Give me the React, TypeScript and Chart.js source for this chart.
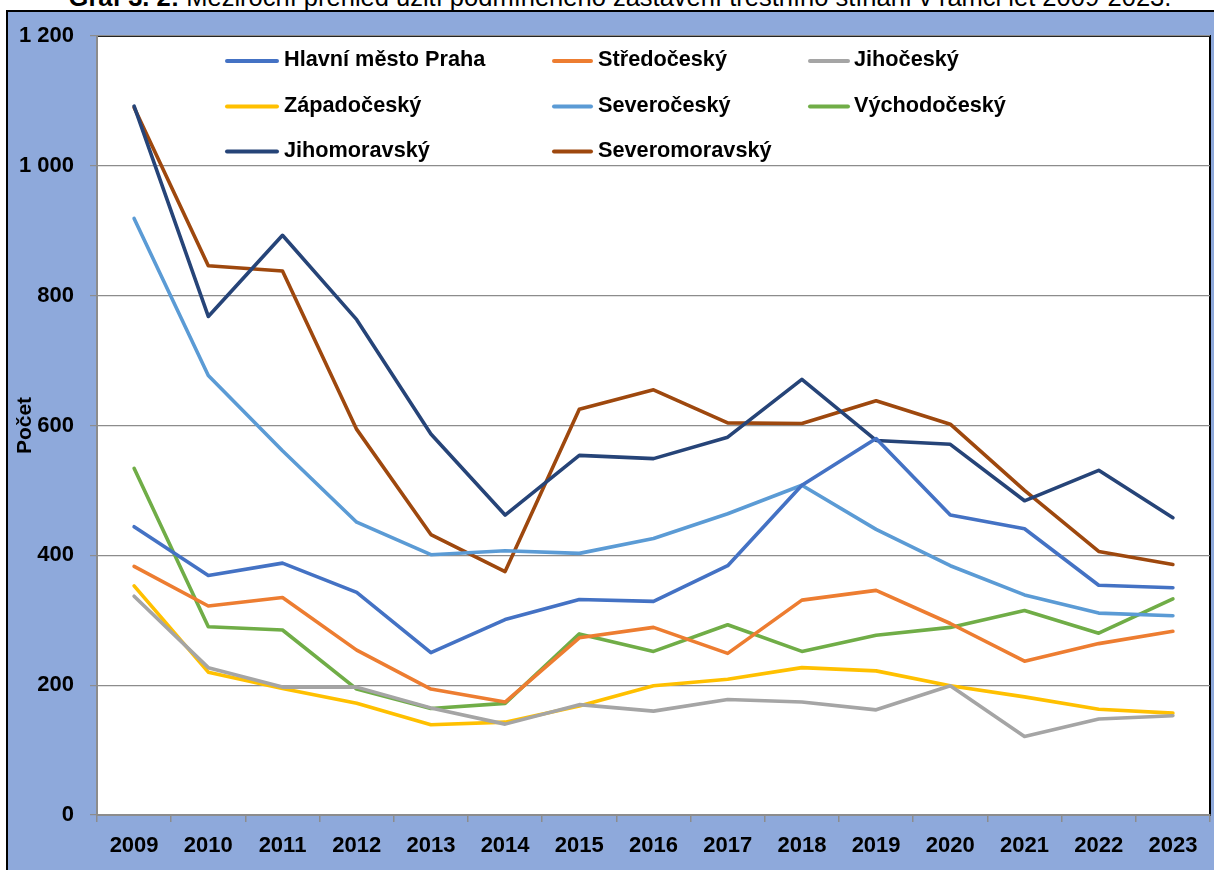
import React, { useEffect, useRef } from "react";
import { Chart, registerables } from "chart.js";
Chart.register(...registerables);

const years = ["2009", "2010", "2011", "2012", "2013", "2014", "2015", "2016", "2017", "2018", "2019", "2020", "2021", "2022", "2023"];

const praha = [444, 369, 388, 343, 250, 301, 332, 329, 384, 508, 580, 462, 441, 354, 350];
const stredocesky = [383, 322, 335, 254, 194, 174, 273, 289, 249, 331, 346, 295, 237, 264, 283];
const jihocesky = [337, 227, 197, 197, 165, 140, 170, 160, 178, 174, 162, 199, 121, 148, 153];
const zapadocesky = [353, 220, 195, 172, 139, 143, 168, 199, 209, 227, 222, 199, 182, 163, 157];
const severocesky = [919, 677, 561, 451, 401, 407, 403, 426, 464, 508, 440, 384, 339, 311, 307];
const vychodocesky = [534, 290, 285, 194, 164, 172, 279, 252, 293, 252, 277, 289, 315, 280, 333];
const jihomoravsky = [1092, 768, 893, 763, 587, 462, 554, 549, 582, 671, 577, 571, 484, 531, 458];
const severomoravsky = [1090, 846, 838, 594, 432, 375, 625, 655, 604, 603, 638, 602, 500, 406, 386];

const seriesNames = ["Hlavní město Praha", "Středočeský", "Jihočeský", "Západočeský", "Severočeský", "Východočeský", "Jihomoravský", "Severomoravský"];
const seriesValues = [praha, stredocesky, jihocesky, zapadocesky, severocesky, vychodocesky, jihomoravsky, severomoravsky];
const seriesColors = ["#4472C4", "#ED7D31", "#A5A5A5", "#FFC000", "#5B9BD5", "#70AD47", "#264478", "#9E480E"];

const yMin = 0;
const yMax = 1200;
const yStep = 200;

const FONT = '"Liberation Sans", Arial, sans-serif';

function fmt(v: number): string {
  if (v >= 1000) {
    return `${Math.floor(v / 1000)} ${String(v % 1000).padStart(3, "0")}`;
  }
  return String(v);
}

const plotAreaPlugin = {
  id: "plotArea",
  beforeDraw(chart: any) {
    const { ctx, chartArea } = chart;
    const { left, top, right, bottom } = chartArea;
    ctx.save();
    ctx.fillStyle = "#ffffff";
    ctx.fillRect(left, top, right - left, bottom - top);
    ctx.strokeStyle = "#000000";
    ctx.lineWidth = 2;
    ctx.strokeRect(left, top, right - left, bottom - top);
    ctx.restore();
  },
};

const legendPlugin = {
  id: "customLegend",
  afterDraw(chart: any) {
    const ctx = chart.ctx;
    const cols = [
      { x0: 225, x1: 279, tx: 284 },
      { x0: 552, x1: 593, tx: 598 },
      { x0: 808, x1: 850, tx: 854 },
    ];
    const rows = [61, 106.5, 151.5];
    chart.data.datasets.forEach((ds: any, i: number) => {
      const c = cols[i % 3];
      const r = rows[Math.floor(i / 3)];
      ctx.save();
      ctx.strokeStyle = ds.borderColor;
      ctx.lineWidth = 4;
      ctx.lineCap = "round";
      ctx.beginPath();
      ctx.moveTo(c.x0 + 2, r);
      ctx.lineTo(c.x1 - 2, r);
      ctx.stroke();
      ctx.fillStyle = "#000000";
      ctx.font = `bold 21.7px ${FONT}`;
      ctx.textBaseline = "middle";
      ctx.textAlign = "left";
      ctx.fillText(ds.label, c.tx, r - 0.5);
      ctx.restore();
    });
  },
};

export default function App() {
  const canvasRef = useRef<HTMLCanvasElement | null>(null);

  useEffect(() => {
    if (!canvasRef.current) return;
    const chart = new Chart(canvasRef.current, {
      type: "line",
      data: {
        labels: years,
        datasets: seriesNames.map((name, i) => ({
          label: name,
          data: seriesValues[i],
          borderColor: seriesColors[i],
          backgroundColor: seriesColors[i],
          borderWidth: 3.6,
          pointRadius: 0,
          tension: 0,
          borderJoinStyle: "round" as const,
          borderCapStyle: "round" as const,
          fill: false,
        })),
      },
      options: {
        responsive: false,
        animation: false,
        devicePixelRatio: 1,
        layout: { padding: { left: 0, top: 36, right: 4, bottom: 5 } },
        plugins: {
          legend: { display: false },
          title: { display: false },
          tooltip: { enabled: false },
        },
        scales: {
          x: {
            type: "category",
            offset: true,
            grid: {
              display: true,
              drawOnChartArea: false,
              offset: true,
              tickLength: 7,
              color: "#8c8c8c",
              lineWidth: 1.5,
            },
            border: { display: true, color: "#8c8c8c", width: 2 },
            ticks: {
              color: "#000000",
              font: { family: FONT, size: 22, weight: "bold" },
              padding: 11,
              maxRotation: 0,
              autoSkip: false,
            },
            afterFit(scale: any) {
              scale.height = 50;
            },
          },
          y: {
            min: yMin,
            max: yMax,
            ticks: {
              stepSize: yStep,
              color: "#000000",
              font: { family: FONT, size: 22, weight: "bold" },
              padding: 16,
              callback: (v: any) => fmt(Number(v)),
            },
            grid: {
              color: "#8c8c8c",
              lineWidth: 1.2,
              tickLength: 7,
            },
            border: { display: true, color: "#8c8c8c", width: 2 },
            title: {
              display: true,
              text: "Počet",
              color: "#000000",
              font: { family: FONT, size: 21, weight: "bold" },
              padding: { top: 13, bottom: 0 },
            },
            afterFit(scale: any) {
              scale.width = 97;
            },
          },
        },
      },
      plugins: [plotAreaPlugin, legendPlugin],
    } as any);
    return () => chart.destroy();
  }, []);

  return (
    <div style={{ position: "fixed", left: 0, top: 0, width: 1214, height: 870, overflow: "hidden", background: "#ffffff" }}>
      <div
        style={{
          position: "absolute",
          top: -15,
          left: 13,
          width: 1214,
          textAlign: "center",
          fontFamily: FONT,
          fontSize: 25.5,
          lineHeight: "25px",
          whiteSpace: "nowrap",
          color: "#000",
        }}
      >
        <b>Graf 3. 2:</b> Meziroční přehled užití podmíněného zastavení trestního stíhání v rámci let 2009-2023.
      </div>
      <div
        style={{
          position: "absolute",
          left: 6,
          top: 10,
          width: 1230,
          height: 880,
          boxSizing: "border-box",
          border: "2px solid #000",
          background: "#8EA9DB",
        }}
      />
      <canvas ref={canvasRef} width={1214} height={870} style={{ position: "absolute", left: 0, top: 0, width: 1214, height: 870 }} />
    </div>
  );
}
